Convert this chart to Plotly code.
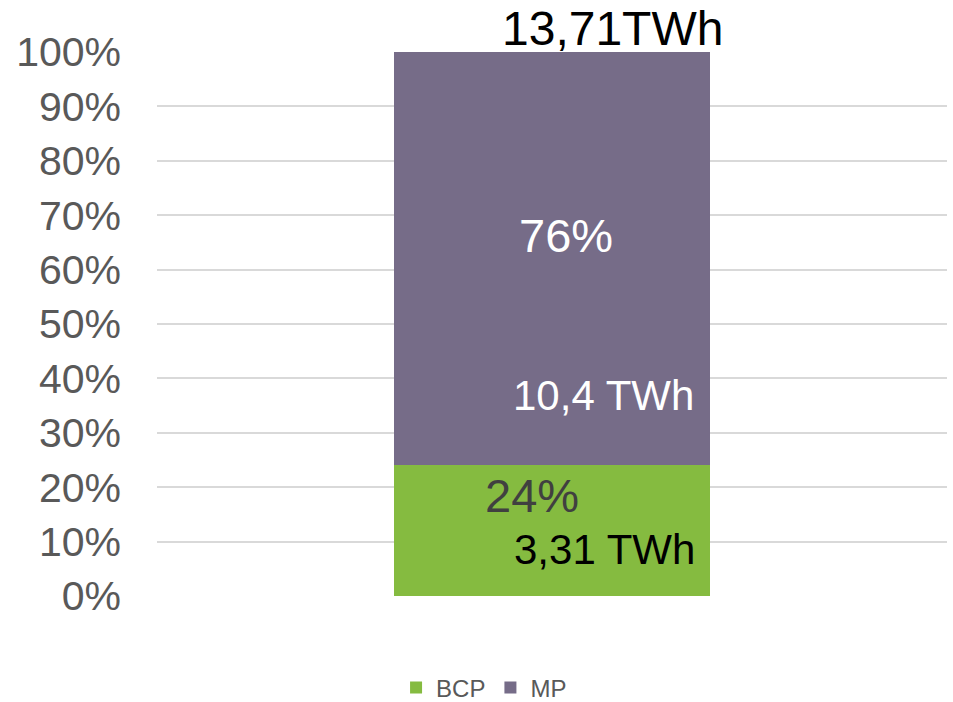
import plotly.graph_objects as go

categories = [""]
series_names = ["BCP", "MP"]
bcp_twh = [3.31]
mp_twh = [10.4]
total_label = "13,71TWh"
bcp_pct = [24]
mp_pct = [76]
tick_vals = [0, 0.1, 0.2, 0.3, 0.4, 0.5, 0.6, 0.7, 0.8, 0.9, 1.0]
tick_text = ["0%", "10%", "20%", "30%", "40%", "50%", "60%", "70%", "80%", "90%", "100%"]

colors = {"BCP": "#85BB40", "MP": "#766C88"}

total = bcp_twh[0] + mp_twh[0]
bcp_share = [bcp_twh[0] / total]
mp_share = [mp_twh[0] / total]

FONT = "Liberation Sans, Arial, sans-serif"

fig = go.Figure()
fig.add_trace(go.Bar(x=[0], y=bcp_share, name="BCP", marker_color=colors["BCP"],
                     marker_line_width=0, width=0.4, hoverinfo="skip"))
fig.add_trace(go.Bar(x=[0], y=mp_share, name="MP", marker_color=colors["MP"],
                     marker_line_width=0, width=0.4, hoverinfo="skip"))

anns = [
    dict(x=0.018, y=0.662, yref="y", yanchor="middle", text=f"{mp_pct[0]}%",
         font=dict(color="white", size=47)),
    dict(x=0.065, y=0.368, yref="y", yanchor="middle", text="10,4 TWh",
         font=dict(color="white", size=42)),
    dict(x=-0.025, y=0.184, yref="y", yanchor="middle", text=f"{bcp_pct[0]}%",
         font=dict(color="#404040", size=47)),
    dict(x=0.066, y=0.085, yref="y", yanchor="middle", text="3,31 TWh",
         font=dict(color="black", size=42)),
    dict(x=0.077, y=1.0 + 52 / 544, yref="paper", yanchor="top", text=total_label,
         font=dict(color="black", size=48)),
]
for a in anns:
    a.update(xref="x", showarrow=False, xanchor="center")
    a["font"]["family"] = FONT

fig.update_layout(
    barmode="stack",
    width=953, height=702,
    margin=dict(l=157, r=6, t=52, b=106, autoexpand=False),
    paper_bgcolor="white", plot_bgcolor="white",
    font=dict(family=FONT, color="#595959"),
    showlegend=True,
    legend=dict(orientation="h", x=0.414, xanchor="center", y=-0.169, yanchor="middle",
                font=dict(size=24, color="#595959"), itemwidth=30, traceorder="normal"),
    annotations=anns,
    xaxis=dict(range=[-0.5, 0.5], showticklabels=False, showgrid=False, zeroline=False,
               showline=False, fixedrange=True, automargin=False),
    yaxis=dict(range=[0, 1], tickvals=tick_vals, ticktext=tick_text, showgrid=True,
               gridcolor="#D9D9D9", gridwidth=1.5, zeroline=False, showline=False,
               tickfont=dict(size=41, color="#595959", family=FONT),
               ticks="", ticklabelstandoff=35, automargin=False, fixedrange=True),
)

fig.write_html(
    "out.html",
    config={"displayModeBar": False},
    post_script="document.body.style.margin='0';document.body.style.padding='0';",
)
